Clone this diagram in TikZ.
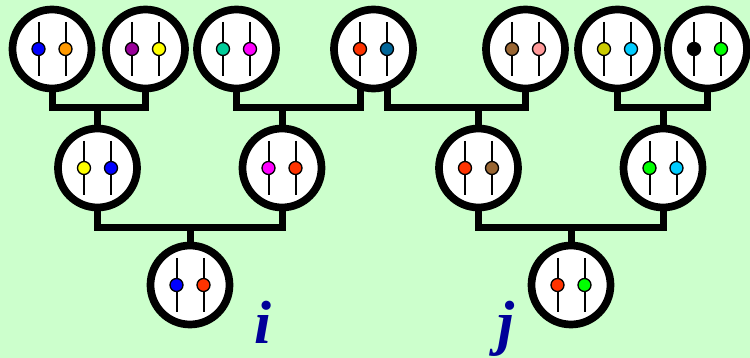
\documentclass[tikz,border=0pt]{standalone}
\usepackage{fontspec}
\setmainfont{Liberation Serif}
\definecolor{bg}{HTML}{CCFFCC}
\definecolor{lbl}{HTML}{000099}
\definecolor{cBlue}{HTML}{0000FF}
\definecolor{cOrange}{HTML}{FF9900}
\definecolor{cPurple}{HTML}{990099}
\definecolor{cYellow}{HTML}{FFFF00}
\definecolor{cTeal}{HTML}{00CC99}
\definecolor{cMagenta}{HTML}{FF00FF}
\definecolor{cRed}{HTML}{FF3300}
\definecolor{cNavy}{HTML}{006699}
\definecolor{cBrown}{HTML}{996633}
\definecolor{cPink}{HTML}{FF9999}
\definecolor{cOlive}{HTML}{CCCC00}
\definecolor{cCyan}{HTML}{00CCFF}
\definecolor{cBlack}{HTML}{000000}
\definecolor{cGreen}{HTML}{00FF00}
\pgfdeclarelayer{bgfill}
\pgfdeclarelayer{conns}
\pgfsetlayers{bgfill,conns,main}
\tikzset{
  person/.style={circle, draw=black, line width=7.7pt, fill=white, minimum size=79pt, inner sep=0pt},
  conn/.style={line width=7pt, line join=miter},
  lbltext/.style={text=lbl, font=\fontsize{61}{61}\selectfont\bfseries\itshape, inner sep=0pt, anchor=base},
  pics/alleles/.style 2 args={code={
    \draw[line width=2pt] (-13.5,-27) -- (-13.5,27);
    \draw[line width=2pt] (13.5,-27) -- (13.5,27);
    \filldraw[fill=#1, draw=black, line width=1.3pt] (-13.5,0) circle (6.5pt);
    \filldraw[fill=#2, draw=black, line width=1.3pt] (13.5,0) circle (6.5pt);
  }}
}
\begin{document}
\begin{tikzpicture}[x=1pt, y=-1pt]
\begin{pgfonlayer}{bgfill}
\fill[bg] (0,0) rectangle (750,358);
\end{pgfonlayer}
\useasboundingbox (0,0) rectangle (750,358);
\coordinate (barA) at (0,108);
\coordinate (barB) at (0,228);
% people
\node[person] (t1) at (52,49) {};
\node[person] (t2) at (145.5,49) {};
\node[person] (t3) at (236.5,49) {};
\node[person] (t4) at (373.5,49) {};
\node[person] (t5) at (525.5,49) {};
\node[person] (t6) at (617.5,49) {};
\node[person] (t7) at (707.5,49) {};
\node[person] (m1) at (97.5,168) {};
\node[person] (m2) at (282,168) {};
\node[person] (m3) at (478.5,168) {};
\node[person] (m4) at (663,168) {};
\node[person] (b1) at (190,285) {};
\node[person] (b2) at (571,285) {};
% alleles
\pic at (t1) {alleles={cBlue}{cOrange}};
\pic at (t2) {alleles={cPurple}{cYellow}};
\pic at (t3) {alleles={cTeal}{cMagenta}};
\pic at (t4) {alleles={cRed}{cNavy}};
\pic at (t5) {alleles={cBrown}{cPink}};
\pic at (t6) {alleles={cOlive}{cCyan}};
\pic at (t7) {alleles={cBlack}{cGreen}};
\pic at (m1) {alleles={cYellow}{cBlue}};
\pic at (m2) {alleles={cMagenta}{cRed}};
\pic at (m3) {alleles={cRed}{cBrown}};
\pic at (m4) {alleles={cGreen}{cCyan}};
\pic at (b1) {alleles={cBlue}{cRed}};
\pic at (b2) {alleles={cRed}{cGreen}};
% connectors
\begin{pgfonlayer}{conns}
\draw[conn] (t1.center) -- (t1.center |- barA) -- (t2.center |- barA) -- (t2.center);
\draw[conn] (m1.center) -- (m1.center |- barA);
\coordinate (t4l) at ([xshift=-13.5pt]t4.center);
\coordinate (t4r) at ([xshift=13.5pt]t4.center);
\draw[conn] (t3.center) -- (t3.center |- barA) -- (t4l |- barA) -- (t4l);
\draw[conn] (m2.center) -- (m2.center |- barA);
\draw[conn] (t4r) -- (t4r |- barA) -- (t5.center |- barA) -- (t5.center);
\draw[conn] (m3.center) -- (m3.center |- barA);
\draw[conn] (t6.center) -- (t6.center |- barA) -- (t7.center |- barA) -- (t7.center);
\draw[conn] (m4.center) -- (m4.center |- barA);
\draw[conn] (m1.center) -- (m1.center |- barB) -- (m2.center |- barB) -- (m2.center);
\draw[conn] (b1.center) -- (b1.center |- barB);
\draw[conn] (m3.center) -- (m3.center |- barB) -- (m4.center |- barB) -- (m4.center);
\draw[conn] (b2.center) -- (b2.center |- barB);
\end{pgfonlayer}
% labels
\node[lbltext] (li) at (263,343) {i};
\node[lbltext] (lj) at (506,343) {j};
\end{tikzpicture}
\end{document}
